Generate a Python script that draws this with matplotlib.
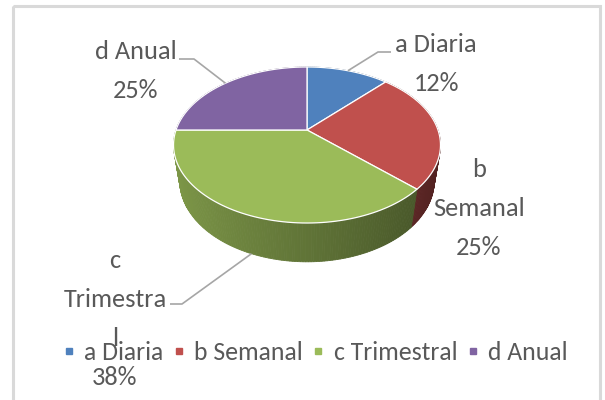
import matplotlib
matplotlib.use('Agg')
import matplotlib.pyplot as plt
import numpy as np
from matplotlib import font_manager
from matplotlib.patches import Polygon, Rectangle
from matplotlib.lines import Line2D

# pick a Calibri-like face if one is installed
installed = {f.name for f in font_manager.fontManager.ttflist}
for fam in ['Carlito', 'Liberation Sans Narrow', 'PT Sans Narrow', 'Roboto Condensed',
            'Open Sans Condensed', 'Lato']:
    if fam in installed:
        break
plt.rcParams['font.family'] = [fam, 'DejaVu Sans']

# --- Data ---
categories = ['a Diaria', 'b Semanal', 'c Trimestral', 'd Anual']
shares = [12, 25, 38, 25]
# how the data labels wrap in the original chart
label_names = [['a Diaria'], ['b', 'Semanal'], ['c', 'Trimestra', 'l'], ['d Anual']]
colors = ['#4f81bd', '#c0504d', '#9bbb59', '#8064a2']

text_color = '#595959'
leader_color = '#a6a6a6'

# --- 3D pie projection (pixel space) ---
cx, cy, f, D = 307, 130, 558, 4.26
tilt = np.radians(35)
depth = 0.35


def proj(u, v, w=0.0):
    yc = v * np.sin(tilt) + w * np.cos(tilt)
    zc = D + v * np.cos(tilt) - w * np.sin(tilt)
    return cx + f * u / zc, cy - f * yc / zc


def shade(color, k):
    rgb = np.array(matplotlib.colors.to_rgb(color))
    return tuple(np.clip(rgb * k, 0, 1))


fig = plt.figure(figsize=(6.05, 4.0), dpi=100)
ax = fig.add_axes([0, 0, 1, 1])
ax.set_xlim(0, 605)
ax.set_ylim(400, 0)
ax.axis('off')

# chart border
ax.add_patch(Rectangle((13, 6), 587, 400, fill=False, edgecolor='#d9d9d9', linewidth=2.2))

cum = np.concatenate([[0], np.cumsum(shares)]) / np.sum(shares) * 360
phis = 90 - cum  # start at 12 o'clock, clockwise

# side wall, painted back to front
segments = []
for i in range(len(shares)):
    a0, a1 = np.radians(phis[i]), np.radians(phis[i + 1])
    n = max(int(abs(phis[i] - phis[i + 1])), 2)
    edges = np.linspace(a0, a1, n + 1)
    for s0, s1 in zip(edges[:-1], edges[1:]):
        segments.append((s0, s1, i))
segments.sort(key=lambda s: -np.sin((s[0] + s[1]) / 2))
for s0, s1, i in segments:
    mid = (s0 + s1) / 2
    k = 0.62 - 0.2 * np.cos(mid)
    pts = [proj(np.cos(s0), np.sin(s0)), proj(np.cos(s1), np.sin(s1)),
           proj(np.cos(s1), np.sin(s1), -depth), proj(np.cos(s0), np.sin(s0), -depth)]
    c = shade(colors[i], k)
    ax.add_patch(Polygon(pts, closed=True, facecolor=c, edgecolor=c, linewidth=0.6))

# top faces
for i in range(len(shares)):
    t = np.radians(np.linspace(phis[i], phis[i + 1], 80))
    pts = [proj(0, 0)] + [proj(np.cos(a), np.sin(a)) for a in t]
    ax.add_patch(Polygon(pts, closed=True, facecolor=colors[i], edgecolor='white', linewidth=0.9))

# --- data labels ---
fs = 19
label_x = [436, 479, 115, 136]
label_base = [52, 177, 268, 59]
line_step = 39
for i in range(len(shares)):
    lines = label_names[i] + [f'{shares[i]}%']
    for j, txt in enumerate(lines):
        ax.text(label_x[i], label_base[i] + j * line_step, txt, ha='center', va='baseline',
                fontsize=fs, color=text_color, zorder=5)

# leader lines: from label to slice rim midpoint
mids = np.radians((phis[:-1] + phis[1:]) / 2)
leader_start = {0: [(391, 52), (378, 52)], 3: [(179, 59), (194, 59)], 2: [(170, 304), (182, 304)]}
for i, pts in leader_start.items():
    w = -depth if i == 2 else 0.0
    ex, ey = proj(np.cos(mids[i]), np.sin(mids[i]), w)
    xs = [p[0] for p in pts] + [ex]
    ys = [p[1] for p in pts] + [ey]
    ax.plot(xs, ys, color=leader_color, linewidth=1.2, solid_capstyle='butt', zorder=4)

# --- legend ---
handles = [Line2D([0], [0], marker='s', linestyle='none', markersize=5,
                  markerfacecolor=c, markeredgecolor=c) for c in colors]
leg = ax.legend(handles, categories, ncol=4, loc='center', bbox_to_anchor=(0.522, 0.12),
                frameon=False, fontsize=18.5, handlelength=0.4, handletextpad=0.4,
                columnspacing=0.4, borderpad=0, borderaxespad=0)
for t in leg.get_texts():
    t.set_color(text_color)

fig.savefig('out.png', dpi=100)
